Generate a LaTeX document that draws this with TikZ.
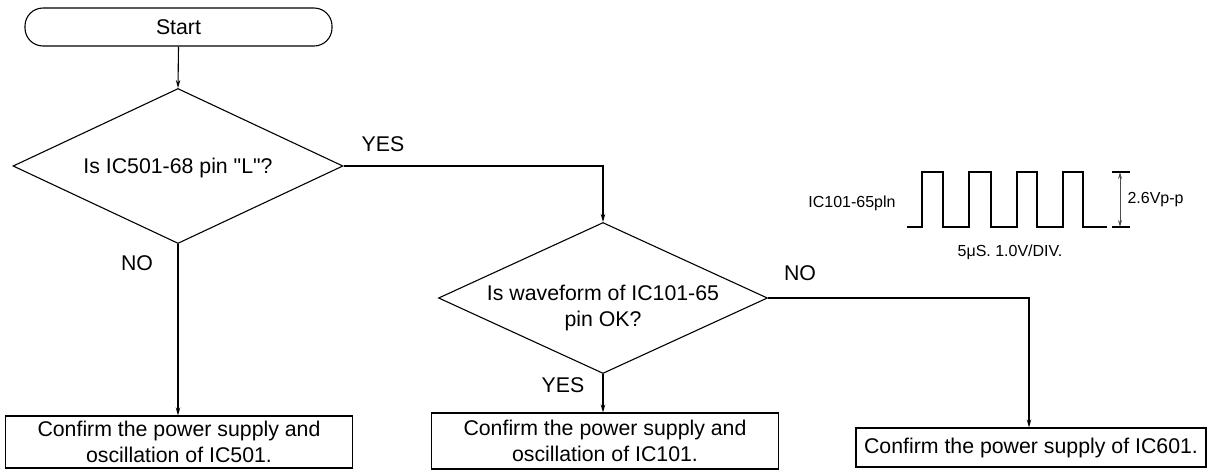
\documentclass[tikz,border=0pt]{standalone}
\usepackage{fontspec}
\setmainfont[Ligatures=TeXOff]{Liberation Sans}
\usetikzlibrary{shapes.geometric,arrows.meta}
\begin{document}
\begin{tikzpicture}[x=1pt,y=-1pt,
  line width=1.1pt,
  mainfont/.style={font=\fontsize{21.3}{26}\selectfont},
  smallfont/.style={font=\fontsize{16}{19}\selectfont},
  startbox/.style={draw,rounded corners=18pt,minimum width=307pt,minimum height=38pt,inner sep=0pt,mainfont},
  decision/.style={draw,diamond,inner sep=0pt},
  actbox/.style={draw,minimum width=347pt,inner sep=0pt,align=center,mainfont},
  lbl/.style={inner sep=0pt,mainfont},
  flow/.style={-{Stealth[length=8pt,width=4.5pt]}},
  wave/.style={line width=2pt,line join=miter},
  dim/.style={black!70,line width=1pt,{Stealth[length=7pt,width=4pt]}-{Stealth[length=7pt,width=4pt]}}
]
\useasboundingbox (0,0) rectangle (1209,475);

\node[startbox] (start) at (178.5,27) {Start};

\node[decision,minimum width=330pt,minimum height=155pt] (d1) at (178,166) {};
\node[lbl] (d1t) at (178,168) {Is IC501-68 pin "L"?};

\node[decision,minimum width=329pt,minimum height=151pt] (d2) at (603,298) {};
\node[lbl,align=center] (d2t) at (603,308) {Is waveform of IC101-65\\pin OK?};

\node[actbox,minimum height=52pt] (b1) at (179,442) {Confirm the power supply and\\oscillation of IC501.};
\node[actbox,minimum height=56pt] (b2) at (605,441) {Confirm the power supply and\\oscillation of IC101.};
\node[actbox,minimum width=350pt,minimum height=39pt] (b3) at (1031,447.5) {Confirm the power supply of IC601.};

\coordinate (c1) at (603,166);
\coordinate (c2) at (1029,298);

\draw[flow] (start.south) -- (d1.north);
\draw[flow] (d1.south) -- (d1.south |- b1.north);
\draw[flow] (d1.east) -- (c1) -- (d2.north);
\draw[flow] (d2.south) -- (d2.south |- b2.north);
\draw[flow] (d2.east) -- (c2) -- (c2 |- b3.north);

\node[lbl] (yes1) at (383,144) {YES};
\node[lbl] (no1) at (137,263) {NO};
\node[lbl] (no2) at (800,273) {NO};
\node[lbl] (yes2) at (563,385) {YES};

% waveform
\node[inner sep=0pt,smallfont] (wlbl) at (852,203) {IC101-65pln};
\draw[wave] (907,227) -- (922,227) -- (922,172) -- (943,172) -- (943,227)
  -- (969,227) -- (969,172) -- (991,172) -- (991,227)
  -- (1017,227) -- (1017,172) -- (1037,172) -- (1037,227)
  -- (1063,227) -- (1063,172) -- (1083,172) -- (1083,227) -- (1107,227);
\coordinate (tt) at (1120,172);
\coordinate (tb) at (1120,227);
\draw (1112,172) -- (1130,172);
\draw (1112,227) -- (1130,227);
\draw[dim] (tt) -- (tb);
\node[inner sep=0pt,smallfont,anchor=west] (vpp) at (1127,200) {2.6Vp-p};
\node[inner sep=0pt,smallfont] (div) at (1010,252) {5μS. 1.0V/DIV.};
\end{tikzpicture}
\end{document}
